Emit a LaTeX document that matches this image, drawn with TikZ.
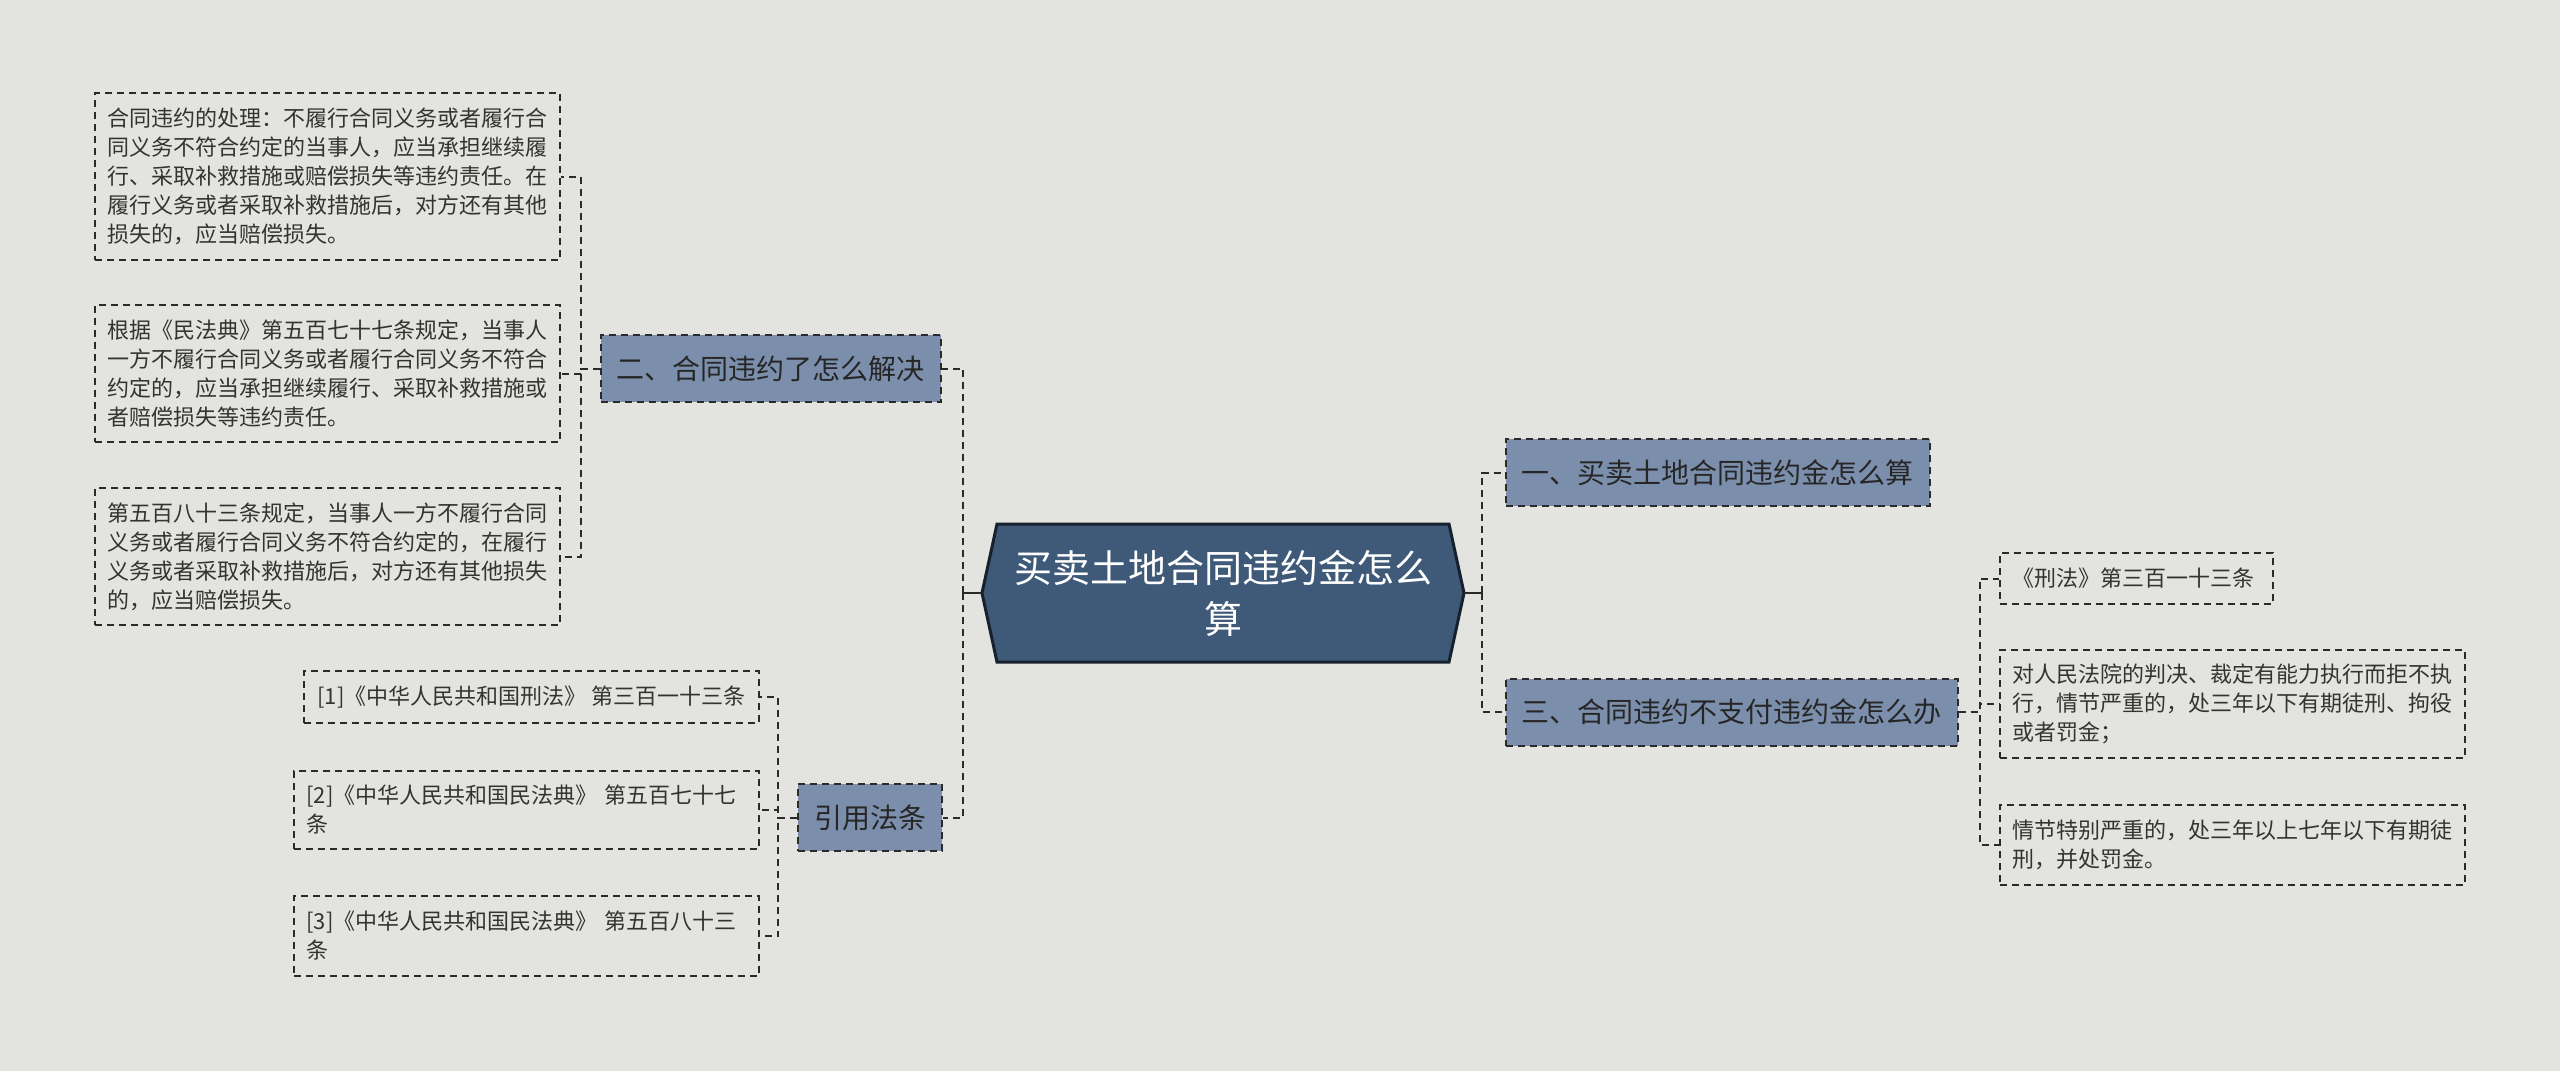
\documentclass[tikz,border=0pt]{standalone}
\usepackage{fontspec}
\setmainfont{Noto Sans CJK SC}
\usetikzlibrary{calc}
\definecolor{bgc}{HTML}{E3E4E0}
\definecolor{rootc}{HTML}{3F5979}
\definecolor{rootb}{HTML}{17212E}
\definecolor{branchc}{HTML}{7B8FAC}
\definecolor{linec}{HTML}{2A2A2A}
\definecolor{txtc}{HTML}{333333}
\begin{document}
\begin{tikzpicture}[x=0.5pt,y=-0.5pt,
 dsh/.style={dash pattern=on 3.5pt off 2.5pt},
 conn/.style={draw=linec, line width=1pt, dsh},
 branch/.style={draw=linec, line width=1pt, dsh, fill=branchc, text=black!85,
   font=\fontsize{14}{17}\selectfont, inner xsep=8pt, inner ysep=0pt, minimum height=33.5pt},
 leaf/.style={draw=linec, line width=0.9pt, dsh, text=txtc,
   font=\fontsize{11}{14.5}\selectfont, align=left, inner xsep=6.25pt, inner ysep=0pt},
]
\fill[bgc] (0,0) rectangle (2560,1071);
\useasboundingbox (0,0) rectangle (2560,1071);

% root
\fill[rootc, draw=rootb, line width=1.5pt] (997,524) -- (1449,524) -- (1464,593) -- (1449,662) -- (997,662) -- (982,593) -- cycle;
\node[text=white, font=\fontsize{19}{25.5}\selectfont, align=center,
  minimum width=241pt, minimum height=69pt, inner sep=0pt] (root) at (1223,593) {买卖土地合同违约金怎么\\算};

% branches
\node[branch] (b1) at (1717.5,472.5) {一、买卖土地合同违约金怎么算};
\node[branch] (b3) at (1731.5,712) {三、合同违约不支付违约金怎么办};
\node[branch] (b2) at (770.5,368.5) {二、合同违约了怎么解决};
\node[branch] (b4) at (870,817.5) {引用法条};

% left leaves of b2
\node[leaf, text width=220pt, minimum height=83.5pt] (l1) at (327.5,176.5) {合同违约的处理：不履行合同义务或者履行合\\同义务不符合约定的当事人，应当承担继续履\\行、采取补救措施或赔偿损失等违约责任。在\\履行义务或者采取补救措施后，对方还有其他\\损失的，应当赔偿损失。};
\node[leaf, text width=220pt, minimum height=68.5pt] (l2) at (327.5,373.5) {根据《民法典》第五百七十七条规定，当事人\\一方不履行合同义务或者履行合同义务不符合\\约定的，应当承担继续履行、采取补救措施或\\者赔偿损失等违约责任。};
\node[leaf, text width=220pt, minimum height=68.5pt] (l3) at (327.5,556.5) {第五百八十三条规定，当事人一方不履行合同\\义务或者履行合同义务不符合约定的，在履行\\义务或者采取补救措施后，对方还有其他损失\\的，应当赔偿损失。};

% leaves of b4
\node[leaf, minimum width=227.5pt, minimum height=26pt] (c1) at (531.5,697) {\mbox{[1]《中华人民共和国刑法》 第三百一十三条}};
\node[leaf, text width=220pt, minimum height=39pt] (c2) at (526.5,810) {[2]《中华人民共和国民法典》 第五百七十七\\条};
\node[leaf, text width=220pt, minimum height=40pt] (c3) at (526.5,936) {[3]《中华人民共和国民法典》 第五百八十三\\条};

% right leaves of b3
\node[leaf, text width=124pt, minimum height=25.5pt] (r1) at (2136.5,578.5) {《刑法》第三百一十三条};
\node[leaf, text width=220pt, minimum height=54pt] (r2) at (2232.5,704) {对人民法院的判决、裁定有能力执行而拒不执\\行，情节严重的，处三年以下有期徒刑、拘役\\或者罚金；};
\node[leaf, text width=220pt, minimum height=40pt] (r3) at (2232.5,845) {情节特别严重的，处三年以上七年以下有期徒\\刑，并处罚金。};

% connectors root -> branches
\coordinate (lb) at (963,593);
\coordinate (rb) at (1482,593);
\draw[linec, line width=1pt] (root.west) -- (lb);
\draw[linec, line width=1pt] (root.east) -- (rb);
\draw[conn] (lb) |- (b2.east);
\draw[conn] (lb) |- (b4.east);
\draw[conn] (rb) |- (b1.west);
\draw[conn] (rb) |- (b3.west);

% branches -> leaves
\draw[conn] (b2.west) -- ++(-19,0) |- (l1.east);
\draw[conn] (b2.west) -- ++(-19,0) |- (l2.east);
\draw[conn] (b2.west) -- ++(-19,0) |- (l3.east);
\draw[conn] (b4.west) -- ++(-19,0) |- (c1.east);
\draw[conn] (b4.west) -- ++(-19,0) |- (c2.east);
\draw[conn] (b4.west) -- ++(-19,0) |- (c3.east);
\draw[conn] (b3.east) -- ++(21,0) |- (r1.west);
\draw[conn] (b3.east) -- ++(21,0) |- (r2.west);
\draw[conn] (b3.east) -- ++(21,0) |- (r3.west);
\end{tikzpicture}
\end{document}
